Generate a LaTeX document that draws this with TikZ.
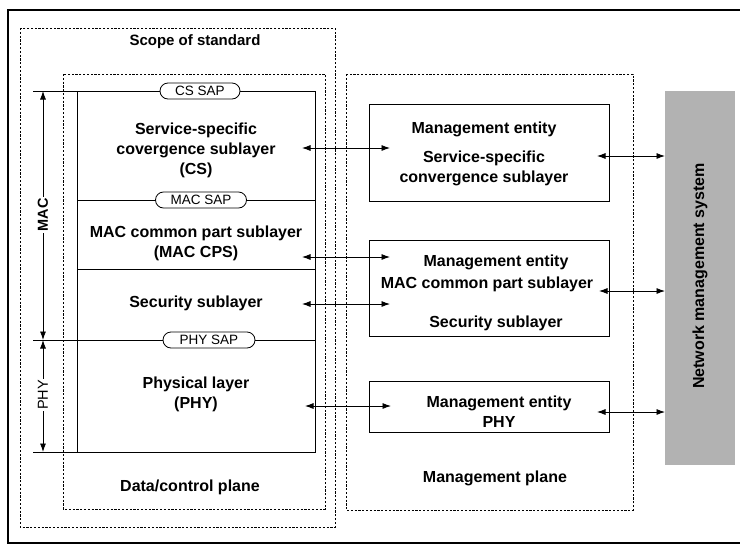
\documentclass[tikz,border=0pt]{standalone}
\usepackage{fontspec}
\setmainfont{Liberation Sans}
\usetikzlibrary{arrows.meta,shapes.misc}
\begin{document}
\begin{tikzpicture}[x=1pt,y=-1pt,
  lbl/.style={font=\fontsize{16}{20}\selectfont\bfseries, align=center, inner sep=1pt},
  sap/.style={draw, rounded rectangle, fill=white, font=\fontsize{13.5}{14}\selectfont, minimum height=16pt, inner sep=1pt, line width=0.8pt},
  dbox/.style={draw, dash pattern=on 2.2pt off 1.6pt, line width=0.7pt},
  mbox/.style={draw, line width=1pt},
  bi/.style={{Latex[length=8.5pt,width=6pt]}-{Latex[length=8.5pt,width=6pt]}, line width=0.8pt},
  layer/.style={line width=0.9pt}]
\useasboundingbox (0,0) rectangle (740,544);
% outer frame
\draw[line width=2pt] (745,10) -- (8,10) -- (8,543) -- (745,543);
% dashed boxes
\draw[dbox] (20,28) rectangle (335,527);
\node[lbl, font=\fontsize{15}{16}\selectfont\bfseries] (scope) at (195,42) {Scope of standard};
\draw[dbox] (63,74) rectangle (325,509);
\node[lbl] (dcp) at (190,487) {Data/control plane};
\draw[dbox] (346,74) rectangle (633,510);
\node[lbl] (mp) at (495,478) {Management plane};
% layer stack
\draw[layer] (33,91) -- (315,91) -- (315,452) -- (33,452);
\draw[layer] (77,91) -- (77,452);
\draw[layer] (77,200) -- (315,200);
\draw[layer] (77,269) -- (315,269);
\draw[layer] (33,340) -- (315,340);
\node[sap, minimum width=82pt] (cssap) at (200,91) {CS SAP};
\node[sap, minimum width=93pt] (macsap) at (201,200) {MAC SAP};
\node[sap, minimum width=94pt] (physap) at (209,340) {PHY SAP};
\node[lbl] (cs) at (196,150) {Service-specific\\covergence sublayer\\(CS)};
\node[lbl] (cps) at (196,243) {MAC common part sublayer\\(MAC CPS)};
\node[lbl] (sec) at (196,303) {Security sublayer};
\node[lbl] (phy) at (196,394) {Physical layer\\(PHY)};
% MAC / PHY dimension arrows
\coordinate (macT) at (43,91);
\coordinate (macB) at (43,340);
\coordinate (phyB) at (43,452);
\draw[bi] (macT) -- (macB);
\draw[bi] (macB) -- (phyB);
\node[lbl, rotate=90, fill=white, inner sep=1.5pt, font=\fontsize{14.5}{16}\selectfont\bfseries] (macl) at (43,215) {MAC};
\node[lbl, rotate=90, fill=white, inner sep=1.5pt, font=\fontsize{14.5}{16}\selectfont] (phyl) at (43,395) {PHY};
% management entities
\draw[mbox] (369,104) rectangle (609,201);
\node[lbl] (me1a) at (484,129) {Management entity};
\node[lbl] (me1b) at (484,168) {Service-specific\\convergence sublayer};
\draw[mbox] (369,240) rectangle (609,336);
\node[lbl] (me2a) at (496,262) {Management entity};
\node[lbl] (me2b) at (487,284) {MAC common part sublayer};
\node[lbl] (me2c) at (496,323) {Security sublayer};
\draw[mbox] (369,381) rectangle (609,432);
\node[lbl] (me3) at (499,412) {Management entity\\PHY};
% network management system
\fill[gray!60] (665,91) rectangle (735,465);
\node[lbl] (nms) at (700,276) {\rotatebox{90}{Network management system}};
% connectors
\coordinate (a1) at (302,148); \coordinate (b1) at (390,148);
\coordinate (a2) at (302,257); \coordinate (b2) at (390,257);
\coordinate (a3) at (302,304); \coordinate (b3) at (390,304);
\coordinate (a4) at (305,406); \coordinate (b4) at (391,406);
\draw[bi] (a1) -- (b1);
\draw[bi] (a2) -- (b2);
\draw[bi] (a3) -- (b3);
\draw[bi] (a4) -- (b4);
\coordinate (c1) at (597,156); \coordinate (d1) at (665,156);
\coordinate (c2) at (599,291); \coordinate (d2) at (665,291);
\coordinate (c3) at (597,412); \coordinate (d3) at (665,412);
\draw[bi] (c1) -- (d1);
\draw[bi] (c2) -- (d2);
\draw[bi] (c3) -- (d3);
\end{tikzpicture}
\end{document}
